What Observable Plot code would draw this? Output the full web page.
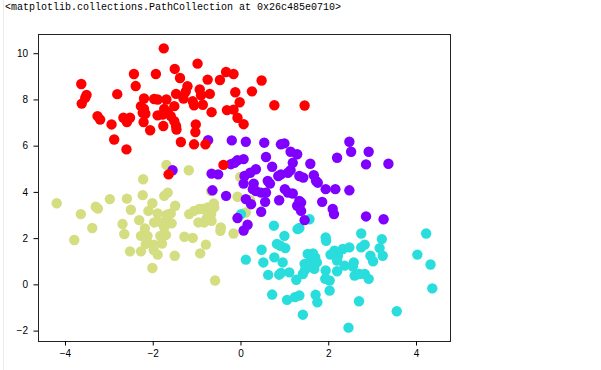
<!DOCTYPE html>
<html>
<head>
<meta charset="utf-8">
<script src="https://cdn.jsdelivr.net/npm/d3@7"></script>
<script src="https://cdn.jsdelivr.net/npm/@observablehq/plot@0.6"></script>
<style>
  html, body { margin: 0; padding: 0; background: #fff; }
  #wrap { position: relative; width: 601px; height: 370px; overflow: hidden; }
  #title { position: absolute; left: 5px; top: 2px; font-family: "Liberation Mono", "DejaVu Sans Mono", monospace; font-size: 10px; color: #000; white-space: pre; }
  #edge { position: absolute; left: 3px; top: 0; width: 1px; height: 370px; background: #ececec; }
</style>
</head>
<body>
<div id="wrap">
  <div id="edge"></div>
  <div id="chart"></div>
  <div id="title">&lt;matplotlib.collections.PathCollection at 0x26c485e0710&gt;</div>
</div>
<script>
const titleText = "<matplotlib.collections.PathCollection at 0x26c485e0710>";
const xTicks = [-4, -2, 0, 2, 4];
const yTicks = [-2, 0, 2, 4, 6, 8, 10];
const clusterColors = ["#8000ff", "#2adddd", "#d4dd80", "#ff0000"];

// cluster 0 (purple)
const purple = [
  [-0.75,6.26],[-0.21,6.25],[0.11,6.19],[0.53,6.15],[0.91,6.08],[0.99,6.12],[2.47,6.19],[-1.56,4.96],
  [1.13,5.76],[1.28,5.65],[0.57,5.53],[2.19,5.50],[-0.15,5.28],[-0.08,5.39],[0.06,5.44],[-0.23,5.22],
  [0.71,5.11],[1.18,5.28],[1.58,5.24],[1.13,4.96],[1.07,4.85],[0.91,4.78],[0.85,4.71],[0.34,5.0],
  [0.21,4.85],[0.08,4.71],[-0.67,4.81],[-0.52,4.78],[0.06,4.38],[0.29,4.38],[0.61,4.50],[0.66,4.38],
  [1.33,4.71],[1.66,4.74],[1.71,4.50],[1.75,4.42],[1.42,4.64],[-0.65,4.09],[-0.34,3.85],[0.27,4.14],
  [0.34,4.06],[0.46,3.99],[0.57,3.99],[1.0,4.14],[1.07,3.99],[1.18,3.95],[1.93,4.14],[2.15,4.14],
  [0.11,3.71],[0.23,3.49],[0.55,3.59],[0.87,3.66],[1.33,3.63],[1.37,3.56],[1.28,3.42],[1.37,3.20],
  [1.85,3.59],[2.09,3.28],[2.12,3.06],[0.46,3.16],[-0.08,2.89],[0.15,2.60],[0.06,2.35],[1.45,2.80],
  [2.51,5.76],[2.91,5.76],[2.85,5.21],[3.36,5.24],[2.47,4.09],[2.85,2.96],[3.25,2.84]
];
// cluster 1 (cyan)
const cyan = [
  [0.0,3.06],[0.75,2.56],[0.99,2.12],[1.56,2.84],[1.33,2.46],[1.29,2.41],[1.93,2.05],[1.94,1.91],
  [0.47,1.52],[0.82,1.77],[0.90,1.69],[1.01,1.59],[0.11,1.09],[0.51,0.97],[0.76,1.19],[0.95,0.97],
  [0.62,0.43],[0.87,0.44],[0.91,0.52],[1.10,0.54],[1.26,0.22],[1.41,0.47],[1.46,0.65],[1.52,1.34],
  [1.64,1.36],[1.69,1.19],[1.60,1.08],[1.45,0.91],[1.51,0.83],[1.67,0.69],[1.73,0.97],[1.93,0.62],
  [1.92,0.26],[2.02,0.19],[2.04,1.31],[2.13,1.48],[2.21,1.26],[2.19,1.05],[2.19,0.59],[2.02,-0.25],
  [0.71,-0.42],[1.05,-0.65],[1.23,-0.53],[1.33,-0.46],[1.70,-0.43],[1.74,-0.75],[1.41,-1.29],
  [2.74,2.22],[3.21,1.98],[4.22,2.22],[2.32,1.55],[2.47,1.62],[2.74,1.62],[2.82,1.74],[3.16,1.59],
  [3.23,1.26],[2.95,1.26],[3.01,1.02],[4.02,1.31],[4.32,0.88],[4.36,-0.15],[2.57,0.97],[2.55,0.79],
  [2.36,0.83],[2.59,0.40],[2.70,0.47],[2.82,0.47],[2.91,0.26],[2.69,-0.71],[3.55,-1.14],[2.45,-1.85]
];
// cluster 2 (olive yellow)
const olive = [
  [-1.70,5.19],[-1.19,4.96],[-2.23,4.57],[-4.20,3.53],[-3.65,3.06],[-3.31,3.38],[-3.26,3.30],[-2.99,3.71],
  [-2.60,3.73],[-2.51,3.25],[-2.24,3.88],[-2.02,3.53],[-1.75,3.85],[-1.67,3.99],[-2.11,3.20],[-1.90,3.09],
  [-1.69,3.03],[-1.60,3.09],[-1.50,3.42],[-2.32,2.80],[-1.98,2.70],[-1.83,2.70],[-1.70,2.77],[-1.58,2.66],
  [-2.70,2.63],[-3.39,2.46],[-2.19,2.44],[-2.66,2.20],[-1.75,2.48],[-2.28,2.12],[-2.13,2.12],[-1.84,2.12],
  [-1.71,2.16],[-3.80,1.94],[-1.29,2.08],[-1.10,2.03],[-1.18,3.06],[-1.07,3.20],[-0.95,3.28],[-0.97,2.70],
  [-2.53,1.45],[-2.28,1.45],[-2.17,1.77],[-2.13,1.84],[-1.98,1.74],[-1.80,1.79],[-1.99,1.51],[-1.90,1.31],
  [-2.02,0.73],[-1.51,1.26],[-0.93,1.36],[-0.80,1.74],[-0.47,2.34],[-0.17,2.22],[-0.59,0.19],
  [-0.02,4.67],[-0.68,4.06],[-0.08,3.81],[0.21,3.66],[0.11,3.13],[-0.87,3.28],[-0.76,3.35],[-0.62,3.52],
  [-0.61,3.35],[-0.68,3.06],[-0.78,2.89],[-0.84,2.70],[-0.67,2.77],[-0.46,2.48]
];
// cluster 3 (red)
const red = [
  [-1.76,10.23],[-3.64,8.69],[-3.52,8.22],[-3.63,7.84],[-3.55,8.09],[-2.44,9.12],[-2.40,8.60],[-2.82,8.25],
  [-1.94,9.12],[-1.51,9.34],[-1.39,8.95],[-0.99,9.57],[-1.22,8.59],[-1.26,8.36],[-0.94,8.45],[-2.21,8.06],
  [-1.98,8.04],[-1.90,8.02],[-1.70,8.02],[-1.48,8.26],[-1.31,8.06],[-1.10,7.94],[-1.07,7.77],[-2.28,7.73],
  [-2.21,7.61],[-2.24,7.44],[-2.18,7.40],[-1.90,7.33],[-1.75,7.61],[-1.67,7.47],[-1.52,7.73],[-1.79,7.37],
  [-1.60,7.30],[-1.52,7.08],[-1.48,6.87],[-1.47,6.72],[-1.77,6.87],[-2.07,6.69],[-2.22,7.04],[-3.27,7.30],
  [-3.21,7.15],[-2.95,6.94],[-2.68,7.23],[-2.60,7.04],[-2.53,7.23],[-2.89,6.29],[-1.03,6.94],[-1.04,6.61],
  [-1.37,6.18],[-1.07,6.08],[-2.61,5.86],[-1.65,4.78],
  [-0.34,9.21],[-0.17,9.12],[-0.76,8.88],[-0.48,8.86],[0.47,8.84],[-0.91,8.2],[-0.71,8.26],[-0.13,8.33],
  [0.25,8.37],[-0.03,7.90],[-0.87,7.79],[-0.67,7.47],[-0.32,7.56],[-0.17,7.58],[0.76,7.77],[1.45,7.76],
  [-0.08,7.23],[0.06,6.95],[-0.81,6.08],[-0.40,5.19]
];

const drawOrder = [[olive, 2], [cyan, 1], [purple, 0], [red, 3]];
const points = drawOrder.flatMap(([pts, c]) => pts.map(([x, y]) => ({x, y, c})));

const chart = Plot.plot({
  width: 601,
  height: 370,
  marginLeft: 38,
  marginRight: 151,
  marginTop: 34,
  marginBottom: 29,
  style: { fontFamily: "'Liberation Sans', Arial, sans-serif", fontSize: "10px", background: "#fff", color: "#000" },
  x: { domain: [-4.615, 4.775] },
  y: { domain: [-2.45, 10.83] },
  color: { domain: [0, 1, 2, 3], range: clusterColors },
  marks: [
    Plot.dot(points, { x: "x", y: "y", r: 5.2, fill: "c", stroke: null }),
    Plot.frame({ stroke: "#222", strokeWidth: 1 }),
    Plot.axisX({ ticks: xTicks, tickSize: 4.5, tickPadding: 4, label: null, fontSize: 10 }),
    Plot.axisY({ ticks: yTicks, tickSize: 4.5, tickPadding: 6, label: null, fontSize: 10 })
  ]
});
document.getElementById("chart").appendChild(chart);
</script>
</body>
</html>
